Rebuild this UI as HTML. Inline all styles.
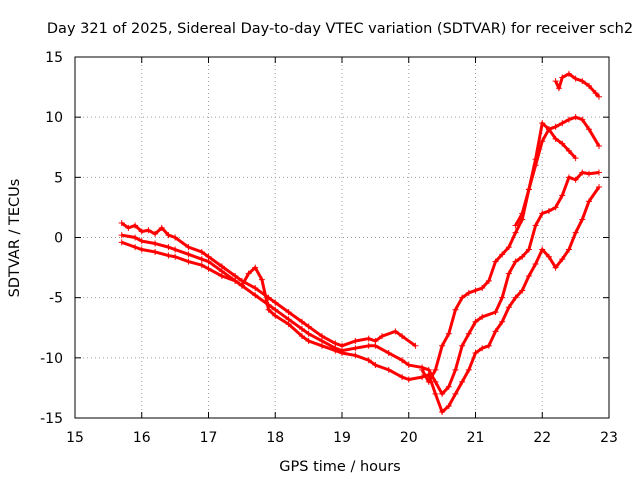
<!DOCTYPE html>
<html><head><meta charset="utf-8"><style>
body{margin:0;background:#fff;}
svg{display:block;font-family:"DejaVu Sans","Liberation Sans",sans-serif;}
</style></head><body>
<svg id="chart" width="640" height="480">
<text x="340" y="33" font-size="14.5" text-anchor="middle">Day 321 of 2025, Sidereal Day-to-day VTEC variation (SDTVAR) for receiver sch2</text>
<text x="340" y="471" font-size="14.5" text-anchor="middle">GPS time / hours</text>
<text transform="translate(19,238) rotate(-90)" font-size="14.5" text-anchor="middle">SDTVAR / TECUs</text>
<g id="grid"></g><g id="ticks"></g><g id="series"></g>
<rect x="75" y="57" width="534" height="361" fill="none" stroke="#000"/>
</svg>
<script>
const xTicks=[15,16,17,18,19,20,21,22,23];
const yTicks=[15,10,5,0,-5,-10,-15];
const trackA_x=[15.7,15.8,15.9,16.0,16.1,16.2,16.3,16.4,16.5,16.7,16.9,17.0,17.2,17.4,17.5,17.7,17.9,18.0,18.2,18.4,18.5,18.7,18.9,19.0,19.2,19.4,19.5,19.6,19.8,19.9,20.1];
const trackA_y=[1.2,0.8,1.0,0.5,0.6,0.3,0.8,0.2,0.0,-0.8,-1.2,-1.6,-2.4,-3.2,-3.6,-4.2,-5.0,-5.4,-6.2,-7.0,-7.4,-8.2,-8.8,-9.0,-8.6,-8.4,-8.6,-8.2,-7.8,-8.2,-9.0];
const trackB_x=[15.7,15.9,16.0,16.2,16.4,16.5,16.7,16.9,17.0,17.2,17.4,17.5,17.7,17.9,18.0,18.2,18.4,18.5,18.7,18.9,19.0,19.2,19.4,19.5,19.7,19.9,20.0,20.2,20.3,20.4,20.5,20.6,20.7,20.8,20.9,21.0,21.1,21.3,21.4,21.5,21.6,21.7,21.8,21.9,22.0,22.1,22.2,22.3,22.4,22.5,22.6,22.7,22.85];
const trackB_y=[0.2,0.0,-0.3,-0.5,-0.8,-1.0,-1.4,-1.8,-2.0,-2.8,-3.6,-4.0,-4.8,-5.6,-6.0,-6.8,-7.6,-8.0,-8.6,-9.2,-9.4,-9.2,-9.0,-9.0,-9.6,-10.2,-10.6,-10.8,-11.0,-12.0,-13.0,-12.4,-11.0,-9.0,-8.0,-7.0,-6.6,-6.2,-5.0,-3.0,-2.0,-1.6,-1.0,1.0,2.0,2.2,2.5,3.5,5.0,4.8,5.4,5.3,5.4];
const trackC_x=[15.7,15.9,16.0,16.2,16.4,16.5,16.7,16.9,17.0,17.2,17.4,17.5,17.6,17.7,17.8,17.9,18.0,18.2,18.4,18.5,18.7,18.9,19.0,19.2,19.4,19.5,19.7,19.9,20.0,20.2,20.3,20.4,20.5,20.6,20.7,20.8,20.9,21.0,21.1,21.2,21.3,21.4,21.5,21.6,21.7,21.8,21.9,22.0,22.1,22.2,22.3,22.4,22.5,22.6,22.7,22.85];
const trackC_y=[-0.4,-0.8,-1.0,-1.2,-1.5,-1.6,-2.0,-2.3,-2.6,-3.2,-3.6,-4.0,-3.0,-2.5,-3.5,-6.0,-6.5,-7.2,-8.2,-8.6,-9.0,-9.4,-9.6,-9.8,-10.2,-10.6,-11.0,-11.6,-11.8,-11.6,-11.4,-13.0,-14.5,-14.0,-13.0,-12.0,-11.0,-9.6,-9.2,-9.0,-7.8,-7.0,-5.8,-5.0,-4.4,-3.2,-2.2,-1.0,-1.6,-2.5,-1.8,-1.0,0.4,1.5,3.0,4.2];
const trackD_x=[20.2,20.3,20.4,20.5,20.6,20.7,20.8,20.9,21.0,21.1,21.2,21.3,21.4,21.5,21.6,21.7,21.8,21.9,22.0,22.1,22.2,22.3,22.4,22.5,22.6,22.7,22.85];
const trackD_y=[-11.0,-12.0,-11.0,-9.0,-8.0,-6.0,-5.0,-4.6,-4.4,-4.2,-3.6,-2.0,-1.4,-0.8,0.4,1.5,4.0,6.0,8.0,9.0,9.2,9.5,9.8,10.0,9.8,9.0,7.6];
const trackE_x=[21.6,21.7,21.8,21.9,22.0,22.1,22.2,22.3,22.4,22.5];
const trackE_y=[1.0,2.0,4.0,6.5,9.5,9.0,8.2,7.8,7.2,6.6];
const trackF_x=[22.2,22.25,22.3,22.4,22.5,22.6,22.7,22.8,22.85];
const trackF_y=[13.0,12.4,13.3,13.6,13.2,13.0,12.6,12.0,11.7];
const NS="http://www.w3.org/2000/svg";
const X0=75,X1=609,Y0=57,Y1=418;
function sx(v){return X0+(v-15)/8*(X1-X0);}
function sy(v){return Y0+(15-v)/30*(Y1-Y0);}
function mk(tag,attrs,parent){const e=document.createElementNS(NS,tag);for(const k in attrs)e.setAttribute(k,attrs[k]);parent.appendChild(e);return e;}
const grid=document.getElementById('grid'),ticks=document.getElementById('ticks'),series=document.getElementById('series');
xTicks.forEach(t=>{const x=sx(t);
 if(t>15&&t<23){const g=mk('line',{x1:x,x2:x,y1:Y0,y2:Y1,stroke:'#a0a0a0','stroke-dasharray':'1,3'},grid);
 
 }
 mk('line',{x1:x,x2:x,y1:Y1,y2:Y1-6,stroke:'#000'},ticks);mk('line',{x1:x,x2:x,y1:Y0,y2:Y0+6,stroke:'#000'},ticks);
 const l=mk('text',{x:x,y:Y1+24,'font-size':14,'text-anchor':'middle'},ticks);l.textContent=t;
 
 });
yTicks.forEach(t=>{const y=sy(t);
 if(t>-15&&t<15){const g=mk('line',{x1:X0,x2:X1,y1:y,y2:y,stroke:'#a0a0a0','stroke-dasharray':'1,3'},grid);
 
 }
 mk('line',{x1:X0,x2:X0+6,y1:y,y2:y,stroke:'#000'},ticks);mk('line',{x1:X1,x2:X1-6,y1:y,y2:y,stroke:'#000'},ticks);
 const l=mk('text',{x:X0-12,y:y+5,'font-size':14,'text-anchor':'end'},ticks);l.textContent=t;
 
 });
const tracks=[[trackA_x,trackA_y],[trackB_x,trackB_y],[trackC_x,trackC_y],[trackD_x,trackD_y],[trackE_x,trackE_y],[trackF_x,trackF_y]];
tracks.forEach((tr,i)=>{const xs=tr[0],ys=tr[1];
 const pts=xs.map((x,j)=>sx(x)+','+sy(ys[j])).join(' ');
 const pl=mk('polyline',{points:pts,fill:'none',stroke:'#f00','stroke-width':3,'stroke-linejoin':'round'},series);
 
 
 xs.forEach((x,j)=>{const cx=sx(x),cy=sy(ys[j]);
  const p=mk('path',{d:`M${cx-3},${cy}H${cx+3}M${cx},${cy-3}V${cy+3}`,stroke:'#f00','stroke-width':1},series);
  
  });});
</script>
</body></html>
